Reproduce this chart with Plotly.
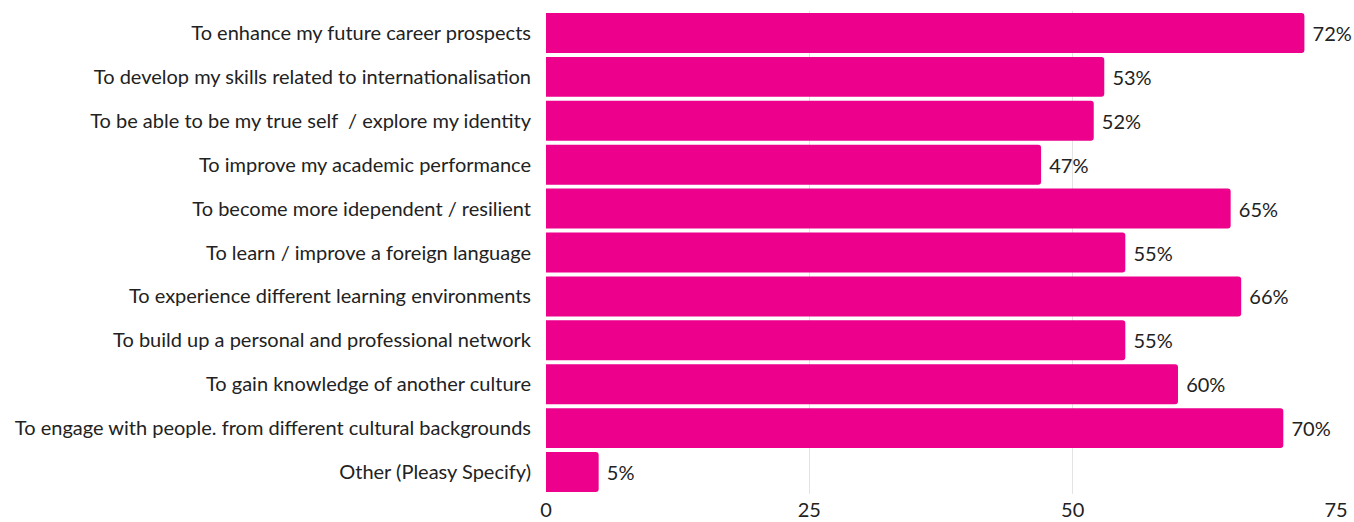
import plotly.graph_objects as go

categories = [
    "To enhance my future career prospects",
    "To develop my skills related to internationalisation",
    "To be able to be my true self  / explore my identity",
    "To improve my academic performance",
    "To become more idependent / resilient",
    "To learn / improve a foreign language",
    "To experience different learning environments",
    "To build up a personal and professional network",
    "To gain knowledge of another culture",
    "To engage with people. from different cultural backgrounds",
    "Other (Pleasy Specify)",
]
values = [72, 53, 52, 47, 65, 55, 66, 55, 60, 70, 5]
tick_values = [0, 25, 50, 75]

FONT = dict(family="Lato", size=20, color="#222222")

fig = go.Figure(
    go.Bar(
        x=values,
        y=categories,
        orientation="h",
        marker=dict(color="#EC008C", cornerradius=3, line=dict(width=0)),
        text=[f" {v}%" for v in values],
        textposition="outside",
        textfont=FONT,
        cliponaxis=False,
    )
)

fig.update_layout(
    width=1354,
    height=522,
    margin=dict(l=546, r=18, t=11, b=28, autoexpand=False),
    paper_bgcolor="white",
    plot_bgcolor="white",
    bargap=0.09,
    showlegend=False,
    font=FONT,
)
fig.update_xaxes(
    range=[0, 75],
    tickvals=tick_values,
    showgrid=True,
    gridcolor="#e3e3e3",
    gridwidth=1,
    zeroline=False,
    showline=False,
    tickfont=FONT,
    ticks="",
    ticklabelstandoff=2,
    automargin=False,
)
fig.update_yaxes(
    autorange="reversed",
    showgrid=False,
    zeroline=False,
    showline=False,
    ticks="",
    ticklabelstandoff=14,
    tickfont=FONT,
    automargin=False,
)

fig.write_html("out.html")
